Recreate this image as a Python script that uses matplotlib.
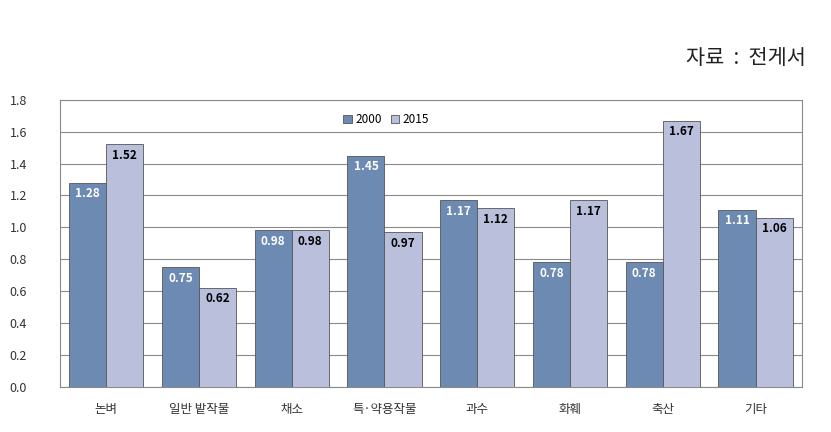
import numpy as np
import matplotlib.pyplot as plt

plt.rcParams['font.family'] = ['Noto Sans CJK KR', 'DejaVu Sans']

# 데이터
categories = ["논벼", "일반 밭작물", "채소", "특·약용작물", "과수", "화훼", "축산", "기타"]
values_2000 = [1.28, 0.75, 0.98, 1.45, 1.17, 0.78, 0.78, 1.11]
values_2015 = [1.52, 0.62, 0.98, 0.97, 1.12, 1.17, 1.67, 1.06]

col_2000 = "#6d8ab3"
col_2015 = "#babfdb"

fig = plt.figure(figsize=(8.31, 4.32), dpi=100)
ax = fig.add_axes([0.072, 0.105, 0.893, 0.664])

x = np.arange(len(categories))
w = 0.4
b1 = ax.bar(x - w / 2, values_2000, w, color=col_2000, edgecolor="#555555", linewidth=0.6, label="2000", zorder=3)
b2 = ax.bar(x + w / 2, values_2015, w, color=col_2015, edgecolor="#555555", linewidth=0.6, label="2015", zorder=3)

# 막대 안쪽 위에 값 표시
for rect, v in zip(b1, values_2000):
    ax.text(rect.get_x() + rect.get_width() / 2, v - 0.07, f"{v:.2f}", ha="center", va="center",
            color="white", fontsize=8.5, fontweight="bold", zorder=4)
for rect, v in zip(b2, values_2015):
    ax.text(rect.get_x() + rect.get_width() / 2, v - 0.07, f"{v:.2f}", ha="center", va="center",
            color="black", fontsize=8.5, fontweight="bold", zorder=4)

ax.set_xlim(-0.5, len(categories) - 0.5)
ax.set_ylim(0, 1.8)
ax.set_yticks(np.arange(0, 1.81, 0.2))
ax.set_yticklabels([f"{t:.1f}" for t in np.arange(0, 1.81, 0.2)])
ax.yaxis.grid(True, color="#8a8a8a", linewidth=0.8, zorder=0)
ax.set_xticks(x)
ax.set_xticklabels(categories)
ax.tick_params(axis="both", length=0, labelsize=9, labelcolor="#333333")
ax.tick_params(axis="x", pad=12)
ax.tick_params(axis="y", pad=36)
for lab in ax.get_yticklabels():
    lab.set_horizontalalignment("left")
for s in ax.spines.values():
    s.set_color("#8a8a8a")
    s.set_linewidth(0.8)

ax.legend(loc="upper center", bbox_to_anchor=(0.44, 0.99), ncol=2, frameon=False, fontsize=8.5,
          handlelength=0.7, handleheight=0.7, handletextpad=0.3, columnspacing=0.8)

fig.text(0.97, 0.865, "자료  :  전게서", ha="right", va="center", fontsize=15, color="#222222")

fig.savefig("out.png", dpi=100, facecolor="white")
